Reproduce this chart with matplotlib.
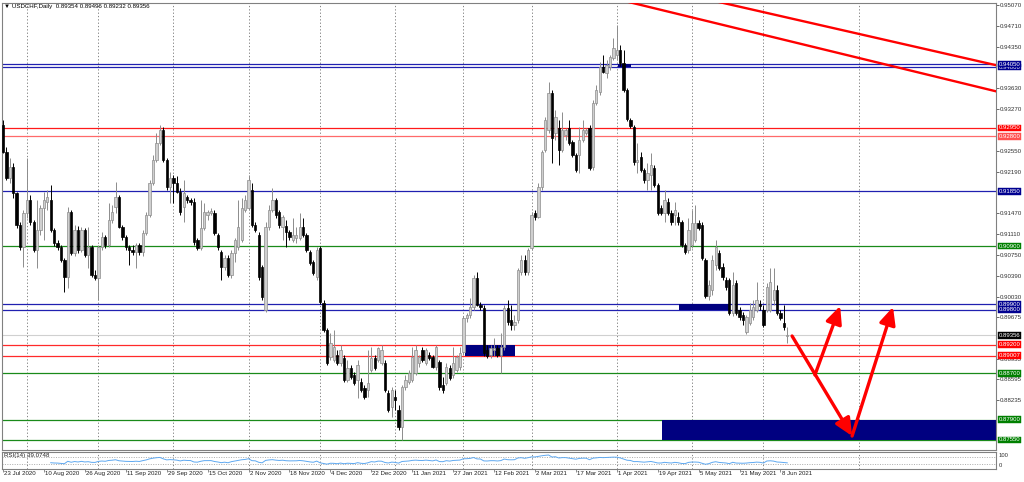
import matplotlib
matplotlib.use("Agg")
import matplotlib.pyplot as plt
import matplotlib.transforms as mtransforms
from matplotlib.patches import Rectangle
import numpy as np

plt.rcParams['font.family'] = ['Liberation Sans', 'DejaVu Sans']

# USDCHF daily bars, 23 Jul 2020 .. 9 Jun 2021
opens = [
    0.9300, 0.9253, 0.9208, 0.9227, 0.9182, 0.9127, 0.9089, 0.9148, 0.9170, 0.9132,
    0.9084, 0.9118, 0.9156, 0.9167, 0.9170, 0.9118, 0.9096, 0.9089, 0.9066, 0.9037,
    0.9149, 0.9078, 0.9118, 0.9084, 0.9118, 0.9075, 0.9089, 0.9040, 0.9035, 0.9089,
    0.9106, 0.9092, 0.9135, 0.9158, 0.9175, 0.9123, 0.9106, 0.9089, 0.9084, 0.9080,
    0.9092, 0.9080, 0.9113, 0.9144, 0.9199, 0.9239, 0.9269, 0.9291, 0.9239, 0.9193,
    0.9208, 0.9199, 0.9184, 0.9158, 0.9175, 0.9170, 0.9167, 0.9101, 0.9087, 0.9122,
    0.9144, 0.9148, 0.9148, 0.9110, 0.9080, 0.9054, 0.9070, 0.9040, 0.9078, 0.9089,
    0.9101, 0.9153, 0.9156, 0.9187, 0.9127, 0.9110, 0.9054, 0.8980, 0.9123, 0.9153,
    0.9170, 0.9149, 0.9123, 0.9125, 0.9115, 0.9101, 0.9104, 0.9104, 0.9123, 0.9110,
    0.9080, 0.9063, 0.9037, 0.9087, 0.8992, 0.8945, 0.8898, 0.8893, 0.8902, 0.8888,
    0.8897, 0.8859, 0.8879, 0.8867, 0.8859, 0.8855, 0.8845, 0.8841, 0.8876, 0.8897,
    0.8893, 0.8888, 0.8888, 0.8836, 0.8812, 0.8829, 0.8807, 0.8777, 0.8846, 0.8855,
    0.8859, 0.8871, 0.8888, 0.8911, 0.8888, 0.8902, 0.8898, 0.8881, 0.8890, 0.8850,
    0.8853, 0.8879, 0.8867, 0.8876, 0.8881, 0.8907, 0.8966, 0.8971, 0.8985, 0.9035,
    0.8988, 0.8983, 0.8911, 0.8902, 0.8911, 0.8914, 0.8902, 0.8916, 0.8983, 0.8962,
    0.8954, 0.8962, 0.9045, 0.9066, 0.9045, 0.9087, 0.9148, 0.9141, 0.9193, 0.9257,
    0.9291, 0.9355, 0.9286, 0.9295, 0.9257, 0.9283, 0.9295, 0.9270, 0.9248, 0.9248,
    0.9274, 0.9286, 0.9295, 0.9227, 0.9338, 0.9357, 0.9400, 0.9390, 0.9400, 0.9416,
    0.9421, 0.9430, 0.9407, 0.9360, 0.9308, 0.9296, 0.9236, 0.9244, 0.9222, 0.9205,
    0.9213, 0.9225, 0.9196, 0.9156, 0.9148, 0.9167, 0.9148, 0.9144, 0.9141, 0.9132,
    0.9092, 0.9084, 0.9092, 0.9101, 0.9130, 0.9127, 0.9066, 0.9004, 0.9014, 0.9058,
    0.9078, 0.9054, 0.9032, 0.9032, 0.8975, 0.9026, 0.8980, 0.8971, 0.8942, 0.8957,
    0.8968, 0.8980, 0.8990, 0.8980, 0.8980, 0.8980, 0.8997, 0.9014, 0.8975, 0.8957,
    0.89354]

highs = [
    0.9308, 0.9262, 0.9243, 0.9234, 0.9184, 0.9132, 0.9153, 0.9243, 0.9179, 0.9135,
    0.9170, 0.9161, 0.9184, 0.9187, 0.9196, 0.9122, 0.9101, 0.9092, 0.9070, 0.9158,
    0.9153, 0.9127, 0.9125, 0.9123, 0.9122, 0.9123, 0.9092, 0.9049, 0.9092, 0.9115,
    0.9110, 0.9165, 0.9161, 0.9201, 0.9179, 0.9127, 0.9110, 0.9092, 0.9092, 0.9096,
    0.9096, 0.9118, 0.9149, 0.9205, 0.9248, 0.9286, 0.9300, 0.9296, 0.9243, 0.9218,
    0.9213, 0.9212, 0.9191, 0.9205, 0.9179, 0.9173, 0.9173, 0.9104, 0.9170, 0.9165,
    0.9153, 0.9156, 0.9153, 0.9113, 0.9084, 0.9075, 0.9075, 0.9084, 0.9104, 0.9170,
    0.9173, 0.9179, 0.9213, 0.9199, 0.9132, 0.9115, 0.9058, 0.9132, 0.9161, 0.9191,
    0.9173, 0.9153, 0.9144, 0.9135, 0.9118, 0.9139, 0.9123, 0.9148, 0.9139, 0.9113,
    0.9084, 0.9066, 0.9089, 0.9090, 0.8997, 0.8949, 0.8940, 0.8945, 0.8911, 0.8919,
    0.8902, 0.8893, 0.8885, 0.8872, 0.8893, 0.8862, 0.8850, 0.8911, 0.8916, 0.8902,
    0.8916, 0.8919, 0.8893, 0.8841, 0.8846, 0.8841, 0.8815, 0.8850, 0.8867, 0.8876,
    0.8916, 0.8919, 0.8902, 0.8916, 0.8914, 0.8907, 0.8902, 0.8919, 0.8893, 0.8864,
    0.8888, 0.8885, 0.8916, 0.8902, 0.8916, 0.8969, 0.8975, 0.9001, 0.9040, 0.9045,
    0.8993, 0.8988, 0.8919, 0.8919, 0.8931, 0.8919, 0.8940, 0.8988, 0.8997, 0.8988,
    0.8971, 0.9052, 0.9075, 0.9075, 0.9087, 0.9149, 0.9153, 0.9199, 0.9257, 0.9314,
    0.9374, 0.9360, 0.9326, 0.9308, 0.9322, 0.9295, 0.9308, 0.9274, 0.9251, 0.9296,
    0.9308, 0.9295, 0.9300, 0.9343, 0.9369, 0.9409, 0.9421, 0.9412, 0.9421, 0.9450,
    0.9473, 0.9438, 0.9430, 0.9364, 0.9312, 0.9300, 0.9269, 0.9253, 0.9225, 0.9234,
    0.9251, 0.9231, 0.9199, 0.9161, 0.9187, 0.9173, 0.9153, 0.9167, 0.9149, 0.9135,
    0.9096, 0.9139, 0.9153, 0.9161, 0.9135, 0.9132, 0.9070, 0.9032, 0.9075, 0.9101,
    0.9084, 0.9061, 0.9037, 0.9035, 0.9045, 0.9032, 0.8985, 0.8976, 0.8971, 0.8992,
    0.8997, 0.9028, 0.8997, 0.8988, 0.9026, 0.9052, 0.9052, 0.9023, 0.8980, 0.8988,
    0.89496]

lows = [
    0.9251, 0.9205, 0.9199, 0.9173, 0.9122, 0.9084, 0.9054, 0.9139, 0.9127, 0.9080,
    0.9052, 0.9110, 0.9101, 0.9153, 0.9115, 0.9090, 0.9084, 0.9063, 0.9011, 0.9018,
    0.9075, 0.9073, 0.9078, 0.9080, 0.9071, 0.9052, 0.9037, 0.9032, 0.8997, 0.9084,
    0.9087, 0.9089, 0.9130, 0.9148, 0.9122, 0.9101, 0.9084, 0.9058, 0.9075, 0.9052,
    0.9075, 0.9073, 0.9110, 0.9141, 0.9196, 0.9236, 0.9265, 0.9236, 0.9187, 0.9165,
    0.9165, 0.9182, 0.9144, 0.9132, 0.9165, 0.9161, 0.9092, 0.9084, 0.9084, 0.9118,
    0.9135, 0.9144, 0.9110, 0.9084, 0.9032, 0.9049, 0.9037, 0.9035, 0.9063, 0.9084,
    0.9097, 0.9149, 0.9153, 0.9123, 0.9115, 0.9032, 0.8997, 0.8976, 0.9118, 0.9149,
    0.9139, 0.9122, 0.9101, 0.9089, 0.9101, 0.9097, 0.9096, 0.9101, 0.9106, 0.9080,
    0.9058, 0.9040, 0.9032, 0.8990, 0.8942, 0.8885, 0.8893, 0.8890, 0.8885, 0.8883,
    0.8855, 0.8855, 0.8860, 0.8850, 0.8827, 0.8838, 0.8826, 0.8829, 0.8872, 0.8876,
    0.8890, 0.8885, 0.8838, 0.8803, 0.8795, 0.8807, 0.8772, 0.8755, 0.8841, 0.8852,
    0.8855, 0.8867, 0.8881, 0.8890, 0.8885, 0.8893, 0.8879, 0.8876, 0.8841, 0.8836,
    0.8850, 0.8859, 0.8862, 0.8872, 0.8876, 0.8902, 0.8959, 0.8966, 0.8980, 0.8987,
    0.8980, 0.8900, 0.8897, 0.8897, 0.8900, 0.8898, 0.8871, 0.8911, 0.8954, 0.8945,
    0.8945, 0.8957, 0.9040, 0.9040, 0.9040, 0.9084, 0.9135, 0.9139, 0.9187, 0.9253,
    0.9286, 0.9234, 0.9274, 0.9231, 0.9253, 0.9274, 0.9265, 0.9244, 0.9218, 0.9217,
    0.9270, 0.9283, 0.9222, 0.9222, 0.9334, 0.9352, 0.9390, 0.9381, 0.9395, 0.9412,
    0.9412, 0.9402, 0.9357, 0.9307, 0.9295, 0.9231, 0.9217, 0.9218, 0.9199, 0.9187,
    0.9187, 0.9193, 0.9144, 0.9144, 0.9132, 0.9144, 0.9127, 0.9127, 0.9127, 0.9089,
    0.9077, 0.9078, 0.9087, 0.9097, 0.9118, 0.9066, 0.9001, 0.8997, 0.9006, 0.9049,
    0.9049, 0.9032, 0.9014, 0.8971, 0.8969, 0.8971, 0.8962, 0.8954, 0.8938, 0.8954,
    0.8962, 0.8976, 0.8980, 0.8950, 0.8976, 0.8976, 0.8988, 0.8971, 0.8962, 0.8945,
    0.89232]

closes = [
    0.9253, 0.9208, 0.9227, 0.9182, 0.9127, 0.9089, 0.9148, 0.9170, 0.9132, 0.9084,
    0.9118, 0.9156, 0.9170, 0.9175, 0.9118, 0.9096, 0.9089, 0.9066, 0.9037, 0.9149,
    0.9078, 0.9118, 0.9084, 0.9118, 0.9075, 0.9089, 0.9040, 0.9035, 0.9089, 0.9106,
    0.9092, 0.9135, 0.9149, 0.9175, 0.9123, 0.9106, 0.9089, 0.9084, 0.9080, 0.9092,
    0.9080, 0.9113, 0.9144, 0.9199, 0.9239, 0.9269, 0.9291, 0.9239, 0.9193, 0.9208,
    0.9199, 0.9184, 0.9149, 0.9182, 0.9170, 0.9167, 0.9097, 0.9087, 0.9122, 0.9149,
    0.9149, 0.9151, 0.9113, 0.9089, 0.9054, 0.9070, 0.9040, 0.9078, 0.9101, 0.9123,
    0.9156, 0.9170, 0.9205, 0.9127, 0.9118, 0.9037, 0.9002, 0.9123, 0.9153, 0.9170,
    0.9144, 0.9127, 0.9141, 0.9115, 0.9106, 0.9110, 0.9110, 0.9123, 0.9110, 0.9084,
    0.9061, 0.9044, 0.9084, 0.8993, 0.8945, 0.8888, 0.8923, 0.8916, 0.8888, 0.8911,
    0.8859, 0.8879, 0.8864, 0.8853, 0.8885, 0.8841, 0.8829, 0.8853, 0.8897, 0.8879,
    0.8914, 0.8911, 0.8841, 0.8807, 0.8841, 0.8824, 0.8777, 0.8846, 0.8859, 0.8871,
    0.8898, 0.8911, 0.8898, 0.8893, 0.8911, 0.8897, 0.8881, 0.8916, 0.8846, 0.8841,
    0.8881, 0.8862, 0.8888, 0.8898, 0.8905, 0.8966, 0.8971, 0.8985, 0.9035, 0.8988,
    0.8985, 0.8905, 0.8900, 0.8914, 0.8914, 0.8902, 0.8916, 0.8983, 0.8959, 0.8954,
    0.8959, 0.9049, 0.9066, 0.9045, 0.9084, 0.9144, 0.9141, 0.9193, 0.9253, 0.9308,
    0.9355, 0.9277, 0.9314, 0.9257, 0.9291, 0.9291, 0.9269, 0.9248, 0.9222, 0.9274,
    0.9291, 0.9291, 0.9225, 0.9338, 0.9360, 0.9400, 0.9391, 0.9404, 0.9417, 0.9433,
    0.9430, 0.9407, 0.9360, 0.9310, 0.9298, 0.9236, 0.9239, 0.9222, 0.9205, 0.9217,
    0.9231, 0.9196, 0.9148, 0.9148, 0.9170, 0.9148, 0.9132, 0.9153, 0.9132, 0.9092,
    0.9080, 0.9118, 0.9130, 0.9130, 0.9122, 0.9070, 0.9004, 0.9023, 0.9066, 0.9089,
    0.9052, 0.9037, 0.9020, 0.8975, 0.9023, 0.8975, 0.8968, 0.8962, 0.8968, 0.8980,
    0.8985, 0.8997, 0.8987, 0.8954, 0.9020, 0.9028, 0.9014, 0.8975, 0.8966, 0.8950,
    0.89356]

date_labels = ["23 Jul 2020", "10 Aug 2020", "26 Aug 2020", "11 Sep 2020", "29 Sep 2020",
               "15 Oct 2020", "2 Nov 2020", "18 Nov 2020", "4 Dec 2020", "22 Dec 2020",
               "11 Jan 2021", "27 Jan 2021", "12 Feb 2021", "2 Mar 2021", "17 Mar 2021",
               "1 Apr 2021", "19 Apr 2021", "5 May 2021", "21 May 2021", "8 Jun 2021"]
label_step = 12

# bar index of first bar of each month (period separators)
month_starts = [7, 28, 50, 72, 93, 115, 135, 155, 180, 202, 223, 251]

price_ticks = [0.95070, 0.94710, 0.94350, 0.93630, 0.93270, 0.92550, 0.92190, 0.91470,
               0.91110, 0.90750, 0.90390, 0.90030, 0.89675, 0.88955, 0.88595, 0.88235]

levels = [0.94050, 0.94000, 0.92950, 0.92800, 0.91850, 0.90900, 0.89900, 0.89800,
          0.89200, 0.89007, 0.88700, 0.87900, 0.87550]
level_colors = ['#2020b0', '#2020b0', '#ff1a1a', '#ff6a6a', '#2020b0', '#1a8a1a',
                '#2020b0', '#2020b0', '#ff2a2a', '#ff2a2a', '#1a8a1a', '#1a8a1a', '#1a8a1a']
box_colors = ['#000090', '#000090', '#ff0000', '#ff5050', '#000090', '#008000',
              '#000090', '#000090', '#ff0000', '#ff0000', '#008000', '#008000', '#008000']
# drawing order of the price boxes (upper one wins where two overlap)
box_z = [11, 10, 10, 10, 10, 10, 10, 10, 10, 10, 10, 10, 10]

last_price = 0.89356

# zones: (bar from, bar to, price low, price high)
zones = [(180.4, 184.2, 0.94000, 0.94050),
         (135.5, 150.1, 0.89007, 0.89200),
         (198.2, 213.0, 0.89800, 0.89900),
         (193.3, 300.0, 0.87550, 0.87900)]

trend_lines = [((180.0, 0.95175), (300.0, 0.93454)),
               ((205.0, 0.95192), (300.0, 0.93914))]

arrows = [((231.4, 0.89347), (249.0, 0.87617)),
          ((238.1, 0.88673), (245.5, 0.89866)),
          ((249.0, 0.87617), (261.0, 0.89849))]


W, H = 1024, 482
fig = plt.figure(figsize=(W / 100, H / 100), dpi=100)
fig.patch.set_facecolor('white')

ax = fig.add_axes([2 / W, 1 - 450 / H, 994 / W, 447 / H])
rsi_ax = fig.add_axes([2 / W, 1 - 469 / H, 994 / W, 17 / H])

n = len(closes)
x = np.arange(n)
o = np.array(opens)
c = np.array(closes)
hi = np.array(highs)
lo = np.array(lows)

xmin, xmax = -0.29, 291.2
ax.set_xlim(xmin, xmax)
ax.set_ylim(0.87375, 0.95108)

# month separators
for m in month_starts:
    ax.axvline(m, color='#707070', lw=0.6, ls=(0, (1.5, 2.5)), zorder=0.5)
    rsi_ax.axvline(m, color='#707070', lw=0.6, ls=(0, (1.5, 2.5)), zorder=0.5)

# horizontal levels
for lv, col in zip(levels, level_colors):
    ax.axhline(lv, color=col, lw=0.9, zorder=1)
ax.axhline(last_price, color='#d0d0d0', lw=0.8, zorder=0.8)

for x0, x1, p0, p1 in zones:
    ax.add_patch(Rectangle((x0, p0), x1 - x0, p1 - p0, facecolor='#000080',
                           edgecolor='none', zorder=1.5))

# candles
up = c >= o
wick_cols = np.where(up, '#8c8c8c', '#000000')
ax.vlines(x, lo, hi, colors=wick_cols, lw=0.7, zorder=3)
body_h = np.maximum(np.abs(c - o), 0.00006)
body_b = np.minimum(o, c)
ax.bar(x[up], body_h[up], bottom=body_b[up], width=0.68, color='#cfcfcf',
       edgecolor='#8c8c8c', linewidth=0.5, zorder=4)
ax.bar(x[~up], body_h[~up], bottom=body_b[~up], width=0.68, color='#000000',
       edgecolor='#000000', linewidth=0.5, zorder=4)

for (xa, ya), (xb, yb) in trend_lines:
    ax.plot([xa, xb], [ya, yb], color='#ff0000', lw=1.7, zorder=5)

for (xa, ya), (xb, yb) in arrows:
    ax.annotate('', xy=(xb, yb), xytext=(xa, ya),
                arrowprops=dict(arrowstyle='-|>,head_length=0.75,head_width=0.35',
                                color='#ff0000', lw=2.4, mutation_scale=14,
                                shrinkA=0, shrinkB=0), zorder=6)

# right price scale
ax.yaxis.tick_right()
ax.set_yticks(price_ticks)
ax.set_yticklabels(["%.5f" % t for t in price_ticks])
ax.tick_params(axis='y', labelsize=4.4, length=2, width=0.5, pad=1,
               colors='#303030')
ax.set_xticks([])

trans = mtransforms.blended_transform_factory(ax.transAxes, ax.transData)
for lv, col, z in zip(levels, box_colors, box_z):
    ax.text(1.0025, lv, "%.5f" % lv, transform=trans, ha='left', va='center',
            fontsize=4.3, color='white', zorder=z,
            bbox=dict(boxstyle='square,pad=0.12', fc=col, ec=col, lw=0.3))
ax.text(1.0025, last_price, "%.5f" % last_price, transform=trans, ha='left',
        va='center', fontsize=4.3, color='white', zorder=12,
        bbox=dict(boxstyle='square,pad=0.12', fc='#000000', ec='#000000', lw=0.3))

for sp in ax.spines.values():
    sp.set_color('#808080')
    sp.set_linewidth(0.8)

fig.text(4 / W, 1 - 4 / H, "\u25bc USDCHF,Daily  0.89354 0.89496 0.89232 0.89356",
         fontsize=4.4, va='top', ha='left', color='#000000')

# RSI(14) sub window
diff = np.diff(c)
gain = np.clip(diff, 0, None)
loss = np.clip(-diff, 0, None)
rsi = np.full(n, np.nan)
ag = gain[:14].mean()
al = loss[:14].mean()
rsi[14] = 100 - 100 / (1 + ag / al)
for i in range(15, n):
    ag = (ag * 13 + gain[i - 1]) / 14
    al = (al * 13 + loss[i - 1]) / 14
    rsi[i] = 100 - 100 / (1 + ag / al)

rsi_ax.set_xlim(xmin, xmax)
rsi_ax.set_ylim(0, 100)
rsi_ax.axhline(70, color='#909090', lw=0.5, ls=(0, (1.5, 2)))
rsi_ax.axhline(30, color='#909090', lw=0.5, ls=(0, (1.5, 2)))
rsi_ax.plot(x, rsi, color='#5ea8f0', lw=0.7)
rsi_ax.set_yticks([])
label_pos = [k * label_step for k in range(len(date_labels))]
rsi_ax.set_xticks(label_pos)
rsi_ax.set_xticklabels([])
rsi_ax.tick_params(axis='x', length=2, width=0.5, colors='#606060')
for sp in rsi_ax.spines.values():
    sp.set_color('#808080')
    sp.set_linewidth(0.8)
rsi_ax.text(0.002, 0.92, "RSI(14) 39.0748", transform=rsi_ax.transAxes,
            fontsize=4.4, va='top', ha='left', color='#202020')
rsi_ax.text(1.003, 0.95, "100", transform=rsi_ax.transAxes, fontsize=4.2,
            va='top', ha='left', color='#303030')
rsi_ax.text(1.003, 0.35, "0", transform=rsi_ax.transAxes, fontsize=4.2,
            va='top', ha='left', color='#303030')

xt = mtransforms.blended_transform_factory(rsi_ax.transData, fig.transFigure)
for pos, lab in zip(label_pos, date_labels):
    rsi_ax.text(pos + 0.3, 1 - 471 / H, lab, transform=xt, fontsize=4.4,
                va='top', ha='left', color='#202020', clip_on=False)

fig.savefig('out.png', dpi=100, facecolor='white')
